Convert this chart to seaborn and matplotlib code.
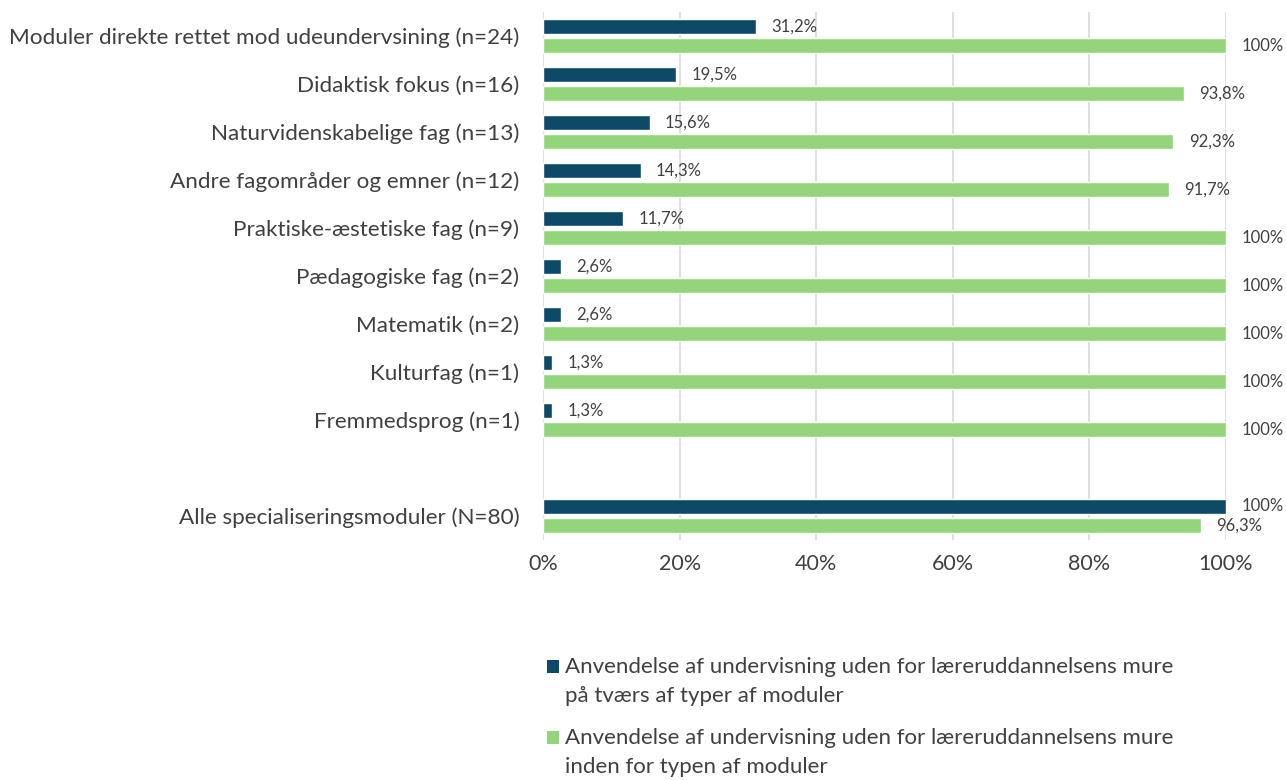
import matplotlib
matplotlib.use("Agg")
import matplotlib.pyplot as plt
import seaborn as sns
import pandas as pd
from matplotlib.patches import Rectangle

categories = [
    "Moduler direkte rettet mod udeundervsining (n=24)",
    "Didaktisk fokus (n=16)",
    "Naturvidenskabelige fag (n=13)",
    "Andre fagområder og emner (n=12)",
    "Praktiske-æstetiske fag (n=9)",
    "Pædagogiske fag (n=2)",
    "Matematik (n=2)",
    "Kulturfag (n=1)",
    "Fremmedsprog (n=1)",
    "Alle specialiseringsmoduler (N=80)",
]
across_types = [31.2, 19.5, 15.6, 14.3, 11.7, 2.6, 2.6, 1.3, 1.3, 100]
within_type = [100, 93.8, 92.3, 91.7, 100, 100, 100, 100, 100, 96.3]
series_names = [
    "Anvendelse af undervisning uden for læreruddannelsens mure\npå tværs af typer af moduler",
    "Anvendelse af undervisning uden for læreruddannelsens mure\ninden for typen af moduler",
]
x_ticks = [0, 20, 40, 60, 80, 100]
colors = ["#0c4a68", "#93d57a"]

df = pd.DataFrame({
    "cat": categories * 2,
    "val": across_types + within_type,
    "series": [series_names[0]] * len(categories) + [series_names[1]] * len(categories),
})
order = categories[:-1] + [" "] + categories[-1:]

sns.set_theme(style="white")
plt.rcParams["font.family"] = ["Lato", "DejaVu Sans"]

fig = plt.figure(figsize=(12.86, 7.8), dpi=100)
ax = fig.add_axes([543 / 1286, 1 - 540 / 780, 683 / 1286, 528 / 780])

sns.barplot(data=df, y="cat", x="val", hue="series", order=order,
            hue_order=series_names, palette=colors, saturation=1, orient="h",
            width=0.8, gap=0.25, errorbar=None, legend=False, ax=ax)

def fmt(v):
    if abs(v - 100) < 1e-9:
        return "100%"
    return f"{v:.1f}".replace(".", ",") + "%"

for cont in ax.containers:
    ax.bar_label(cont, fmt=fmt, padding=11, fontsize=12, color="#404040")

ax.set_xlim(0, 100)
ax.set_ylim(len(order) - 0.5, -0.5)
ax.set_xticks(x_ticks)
ax.set_xticklabels([f"{t}%" for t in x_ticks], fontsize=15.5, color="#404040")
ax.tick_params(axis="x", length=0, pad=10)
ax.tick_params(axis="y", length=0, pad=17, labelsize=16.2, labelcolor="#404040")
ax.set_xlabel("")
ax.set_ylabel("")
ax.grid(axis="x", color="#d9d9d9", linewidth=1.2)
ax.set_axisbelow(True)
for s in ax.spines.values():
    s.set_visible(False)

# legend (drawn manually so the marker sits on the first text line)
W, H = 1286, 780
legend_top = [660, 731]
for top, name, c in zip(legend_top, series_names, colors):
    fig.patches.append(Rectangle((547 / W, 1 - (top + 13) / H), 12 / W, 13 / H,
                                 transform=fig.transFigure, facecolor=c,
                                 edgecolor="none"))
    fig.text(565 / W, 1 - (top - 3) / H, name, ha="left", va="top",
             fontsize=16, color="#404040", linespacing=1.55)

fig.savefig("out.png", dpi=100)
